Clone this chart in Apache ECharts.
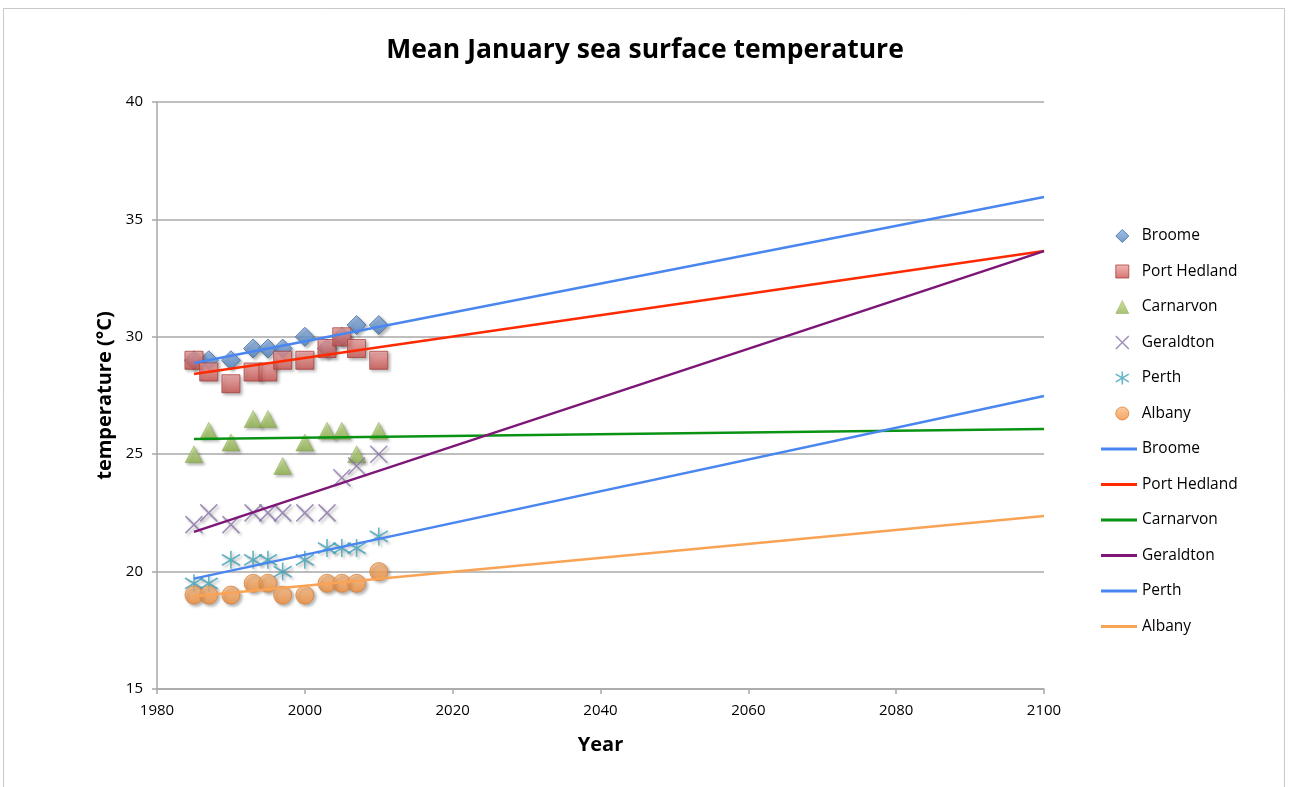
<!DOCTYPE html>
<html>
<head>
<meta charset="utf-8">
<script src="https://cdn.jsdelivr.net/npm/echarts@6/dist/echarts.min.js"></script>
<style>
html,body{margin:0;padding:0;background:#fff;}
#chart{width:1290px;height:787px;}
</style>
</head>
<body>
<div id="chart"></div>
<script>
// ---- data ----
const years = [1985, 1987, 1990, 1993, 1995, 1997, 2000, 2003, 2005, 2007, 2010];
const broome      = [29, 29, 29, 29.5, 29.5, 29.5, 30, 29.5, 30, 30.5, 30.5];
const portHedland = [29, 28.5, 28, 28.5, 28.5, 29, 29, 29.5, 30, 29.5, 29];
const carnarvon   = [25, 26, 25.5, 26.5, 26.5, 24.5, 25.5, 26, 26, 25, 26];
const geraldton   = [22, 22.5, 22, 22.5, 22.5, 22.5, 22.5, 22.5, 24, 24.5, 25];
const perth       = [19.5, 19.5, 20.5, 20.5, 20.5, 20, 20.5, 21, 21, 21, 21.5];
const albany      = [19, 19, 19, 19.5, 19.5, 19, 19, 19.5, 19.5, 19.5, 20];
const stationNames = ['Broome', 'Port Hedland', 'Carnarvon', 'Geraldton', 'Perth', 'Albany'];
// trend line end points (year, value)
const trendYears = [1985, 2100];
const trendBroome      = [28.88, 35.95];
const trendPortHedland = [28.42, 33.65];
const trendCarnarvon   = [25.65, 26.07];
const trendGeraldton   = [21.69, 33.65];
const trendPerth       = [19.70, 27.48];
const trendAlbany      = [18.95, 22.37];
const yTicks = [15, 20, 25, 30, 35, 40];
const xTicks = [1980, 2000, 2020, 2040, 2060, 2080, 2100];

const seriesValues = [broome, portHedland, carnarvon, geraldton, perth, albany];
const trendValues = [trendBroome, trendPortHedland, trendCarnarvon, trendGeraldton, trendPerth, trendAlbany];

const FONT = '"Open Sans", "Noto Sans", sans-serif';
function grad(top, bottom) {
  return new echarts.graphic.LinearGradient(0, 0, 0, 1, [{offset: 0, color: top}, {offset: 1, color: bottom}]);
}
const shadow = {shadowBlur: 3, shadowOffsetX: 2, shadowOffsetY: 2, shadowColor: 'rgba(0,0,0,0.35)'};
const XPATH = 'path://M0,0L10,10M10,0L0,10';
const STARPATH = 'path://M5,0L5,10M0,2L10,8M0,8L10,2';
const markerStyles = [
  {symbol: 'diamond', size: [19, 19], itemStyle: {color: grad('#8fb3e3', '#4f81bd'), borderColor: '#3e6a9c', borderWidth: 1}},
  {symbol: 'rect', size: [18, 18], itemStyle: {color: grad('#f2a6a4', '#c9524f'), borderColor: '#a5423f', borderWidth: 1}},
  {symbol: 'triangle', size: [18, 17], itemStyle: {color: grad('#c3dc8f', '#8fb24c'), borderColor: '#7d9c42', borderWidth: 0.5}},
  {symbol: XPATH, size: [17, 17], itemStyle: {color: 'transparent', borderColor: '#8a73a8', borderWidth: 1.5}},
  {symbol: STARPATH, size: [18, 18], itemStyle: {color: 'transparent', borderColor: '#3fa3b8', borderWidth: 1.6}},
  {symbol: 'circle', size: [18, 18], itemStyle: {color: grad('#fbbf87', '#f38e3a'), borderColor: '#d9823a', borderWidth: 1}}
];
const lineColors = ['#4a86f0', '#ff2a00', '#0a9313', '#7d1677', '#4a86f0', '#f9a355'];

const series = [];
stationNames.forEach((name, i) => {
  const m = markerStyles[i];
  series.push({
    name: name,
    type: 'scatter',
    symbol: m.symbol,
    symbolSize: m.size,
    itemStyle: Object.assign({}, m.itemStyle, shadow),
    data: years.map((y, k) => [y, seriesValues[i][k]]),
    z: 2
  });
});
stationNames.forEach((name, i) => {
  series.push({
    name: name + ' ',
    type: 'line',
    showSymbol: false,
    symbol: 'none',
    color: lineColors[i],
    lineStyle: {color: lineColors[i], width: 2.5},
    data: trendYears.map((y, k) => [y, trendValues[i][k]]),
    z: 3,
    silent: true
  });
});

const legendText = {fontFamily: FONT, fontSize: 15.5, color: '#000', lineHeight: 18};
const legendScatter = stationNames.map((n, i) => ({
  name: n,
  icon: markerStyles[i].symbol,
  itemStyle: Object.assign({}, markerStyles[i].itemStyle, {shadowBlur: 0, shadowOffsetX: 0, shadowOffsetY: 0})
}));
const legendLines = stationNames.map((n, i) => ({name: n + ' ', icon: 'rect', itemStyle: {color: lineColors[i]}}));

const chart = echarts.init(document.getElementById('chart'), null, {renderer: 'canvas'});
chart.setOption({
  backgroundColor: '#fff',
  animation: false,
  title: {
    text: 'Mean January sea surface temperature',
    left: 'center',
    top: 32,
    textStyle: {fontFamily: FONT, fontSize: 26.5, fontWeight: 'bold', color: '#000'}
  },
  graphic: [{
    type: 'rect', silent: true, z: -10,
    shape: {x: 3.5, y: 8.5, width: 1281, height: 800},
    style: {fill: 'none', stroke: '#c8c8c8', lineWidth: 1}
  }],
  legend: [{
    orient: 'vertical',
    left: 1115,
    top: 227,
    padding: 0,
    itemWidth: 13,
    itemHeight: 13,
    itemGap: 17.5,
    formatter: n => n.trim(),
    textStyle: Object.assign({}, legendText, {padding: [0, 0, 0, 8]}),
    data: legendScatter
  }, {
    orient: 'vertical',
    left: 1101,
    top: 227 + 6 * 35.5,
    padding: 0,
    itemWidth: 36,
    itemHeight: 3,
    itemGap: 17.5,
    formatter: n => n.trim(),
    textStyle: legendText,
    data: legendLines
  }],
  grid: {left: 157, right: 246, top: 102, bottom: 98, containLabel: false},
  xAxis: {
    type: 'value',
    min: xTicks[0], max: xTicks[xTicks.length - 1], interval: 20,
    name: 'Year', nameLocation: 'middle', nameGap: 46,
    nameTextStyle: {fontFamily: FONT, fontSize: 20, fontWeight: 'bold', color: '#000'},
    axisLine: {show: true, lineStyle: {color: '#a8a8a8', width: 1.5}},
    axisTick: {show: true, length: 5, lineStyle: {color: '#a8a8a8', width: 1.5}},
    axisLabel: {fontFamily: FONT, fontSize: 15, color: '#000', margin: 14, formatter: v => String(v)},
    splitLine: {show: false}
  },
  yAxis: {
    type: 'value',
    min: yTicks[0], max: yTicks[yTicks.length - 1], interval: 5,
    name: 'temperature (°C)', nameLocation: 'middle', nameGap: 40,
    nameTextStyle: {fontFamily: FONT, fontSize: 20, fontWeight: 'bold', color: '#000'},
    axisLine: {show: true, lineStyle: {color: '#a8a8a8', width: 1.5}},
    axisTick: {show: true, length: 5, lineStyle: {color: '#a8a8a8', width: 1.5}},
    axisLabel: {fontFamily: FONT, fontSize: 15, color: '#000', margin: 14, formatter: v => String(v)},
    splitLine: {show: true, lineStyle: {color: '#a8a8a8', width: 1.5}}
  },
  series: series
});
</script>
</body>
</html>
